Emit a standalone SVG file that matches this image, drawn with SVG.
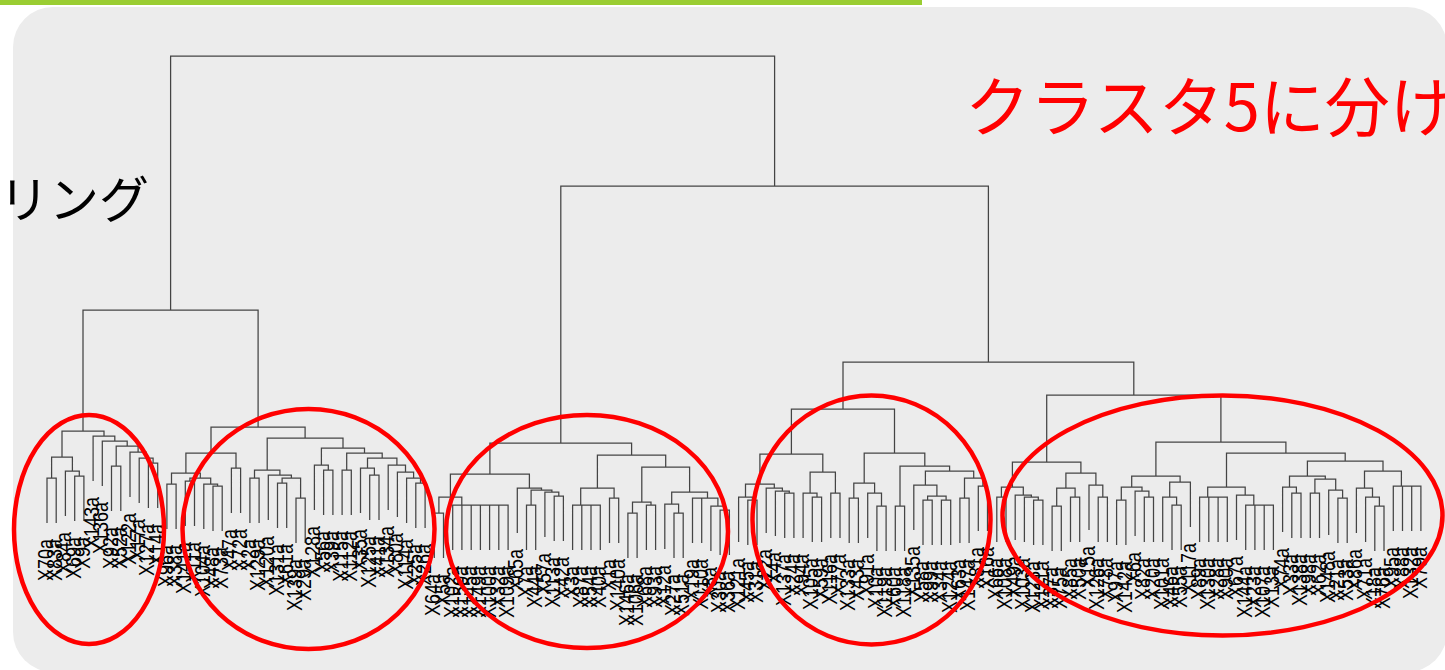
<svg xmlns="http://www.w3.org/2000/svg" width="1445" height="670" viewBox="0 0 1445 670">
<style>
.d{fill:none;stroke:#444;stroke-width:1.25}
.l{font-family:"Liberation Sans",Arial,sans-serif;font-size:18px;fill:#000;text-anchor:end}
.e{fill:none;stroke:#ff0000;stroke-width:4.5}
.jp{font-family:"Noto Sans CJK JP","Noto Sans",sans-serif}
</style>
<rect x="0" y="0" width="922" height="5" fill="#9ACD32"/>
<rect x="13" y="7" width="1434" height="665" rx="40" fill="#ECECEC"/>
<text class="jp" x="-1" y="218" font-size="50" fill="#000">リング</text>
<text class="jp" x="965" y="131" font-size="65" fill="#FF0000">クラスタ5に分け</text>
<g id="connectors">
<path class="d" d="M170.6 310V56H774.6V186M83 431V310H258.1V427M560.8 443V186H988.4V362M843 409V362H1133.8V395M1046.7 462V395H1220.9V442M791.4 454V409H894.5V453M489.9 474V443H631.6V455M211 453V427H305.1V438M62 457V431H104V436"/>
</g>
<g id="cluster1">
<path class="d" d="M74.7 521V476H83.9V521M65.4 516V471H79.3V476M47 523V478H56.2V523M51.6 478V457H72.4V471M148.4 508V463H157.7V508M139.2 503V458H153.1V463M130 497V452H146.2V458M111.5 511V466H120.8V511M116.2 466V446H138.1V452M102.3 486V441H127.2V446M93.1 481V436H114.8V441"/>
</g>
<g id="cluster2">
<path class="d" d="M166.9 529V484H176.1V529M185.3 526V481H194.5V526M213 531V486H222.2V531M203.8 529V484H217.6V486M189.9 481V478H210.7V484M171.5 484V473H200.3V478M231.4 513V468H240.6V513M185.9 473V453H236V468M249.9 523V478H259.1V523M277.5 528V483H286.7V528M296 543V498H305.2V543M282.1 483V478H300.6V498M268.3 520V475H291.4V478M254.5 478V470H279.9V475M323.6 515V470H332.9V515M314.4 510V465H328.3V470M342.1 515V470H351.3V515M369.7 520V475H379V520M360.5 513V468H374.4V475M415.8 528V483H425.1V528M406.6 523V478H420.5V483M397.4 517V472H413.6V478M388.2 510V465H405.5V472M367.5 468V458H396.9V465M346.7 470V453H382.2V458M321.4 465V448H364.5V453M267.2 470V438H343V448"/>
</g>
<g id="cluster3">
<path class="d" d="M434.3 558V513H443.5V558M452.7 550V505H508.1V550M461.9 505V550M471.2 505V550M480.4 505V550M489.6 505V550M498.8 505V550M438.9 513V497H461.8V505M526.5 550V505H535.7V550M554.2 541V496H563.4V541M544.9 537V492H558.8V496M531.1 505V490H551.9V492M517.3 533V488H541.5V490M450.4 497V474H529.4V488M572.6 550V505H600.3V550M581.8 505V550M591 505V550M609.5 543V498H618.7V543M580.7 505V488H614.1V498M627.9 558V513H637.1V558M646.4 550V505H655.6V550M632.5 513V502H651V505M674 558V513H683.2V558M664.8 549V504H678.6V513M692.5 543V498H701.7V543M720.1 555V510H729.4V555M710.9 551V506H724.8V510M697.1 498H717.9V506M671.7 504V492H707.5V498M641.8 502V467H689.6V492M597.4 488V455H665.7V467"/>
</g>
<g id="cluster4">
<path class="d" d="M747.8 545V500H757V545M738.6 542V497H752.4V500M784.7 538V493H793.9V538M775.4 536V491H789.3V493M766.2 533V488H782.4V491M745.5 497V484H774.3V488M812.3 542V497H821.6V542M803.1 538V493H817V497M830.8 538V493H840V538M810.1 493V472H835.4V493M759.9 484V454H822.8V472M849.2 543V498H858.4V543M876.9 551V506H886.1V551M867.7 538V493H881.5V506M853.8 498V483H874.6V493M895.3 551V506H904.6V551M923 545V500H932.2V545M941.4 545V500H950.7V545M927.6 500V496H946.1V500M913.8 530V485H936.9V496M959.9 543V498H969.1V543M978.3 531V486H987.5V531M964.5 498V478H982.9V486M925.4 485V471H973.7V478M900 506V466H949.6V471M864.2 483V453H924.8V466"/>
</g>
<g id="cluster5">
<path class="d" d="M996.8 542V497H1006V542M1033.6 545V500H1042.9V545M1024.4 542V497H1038.3V500M1015.2 540V495H1031.4V497M1001.4 497V487H1023.3V495M1052.1 551V506H1061.3V551M1070.5 542V497H1079.7V542M1056.7 506V488H1075.1V497M1098.2 542V497H1107.4V542M1089 530V485H1102.8V497M1065.9 488V473H1095.9V485M1012.4 487V462H1080.9V473M1116.6 545V500H1125.9V545M1144.3 542V497H1153.5V542M1135.1 536V491H1148.9V497M1121.3 500V487H1142V491M1172 550V505H1181.2V550M1162.7 542V497H1176.6V505M1169.7 497V482H1190.4V527M1131.7 487V476H1180.1V482M1199.6 542V497H1227.3V542M1208.8 497V542M1218.1 497V542M1245.7 550V505H1273.4V550M1254.9 505V550M1264.2 505V550M1236.5 540V495H1253.8V505M1207.7 497V487H1245.2V495M1291.8 538V493H1301V538M1282.6 532V487H1296.4V493M1310.3 538V493H1319.5V538M1337.9 543V498H1347.2V543M1328.7 535V490H1342.6V498M1314.9 493V479H1335.7V490M1289.5 487V476H1325.3V479M1374.8 551V506H1384V551M1365.6 542V497H1379.4V506M1356.4 533V488H1372.5V497M1393.3 531V486H1420.9V531M1402.5 486V531M1411.7 486V531M1364.5 488V471H1401.4V486M1307.4 476V461H1383V471M1226.5 487V453H1345.2V461M1155.9 476V442H1285.9V453"/>
</g>
<g id="labels">
<text class="l" transform="translate(53 539) rotate(-90) scale(1 1.2)">X70a</text>
<text class="l" transform="translate(62.2 539) rotate(-90) scale(1 1.2)">X83a</text>
<text class="l" transform="translate(71.4 532) rotate(-90) scale(1 1.2)">X84a</text>
<text class="l" transform="translate(80.7 537) rotate(-90) scale(1 1.2)">X69a</text>
<text class="l" transform="translate(89.9 537) rotate(-90) scale(1 1.2)">X9a</text>
<text class="l" transform="translate(99.1 497) rotate(-90) scale(1 1.2)">X143a</text>
<text class="l" transform="translate(108.3 502) rotate(-90) scale(1 1.2)">X136a</text>
<text class="l" transform="translate(117.5 527) rotate(-90) scale(1 1.2)">X92a</text>
<text class="l" transform="translate(126.8 527) rotate(-90) scale(1 1.2)">X52a</text>
<text class="l" transform="translate(136 513) rotate(-90) scale(1 1.2)">X122a</text>
<text class="l" transform="translate(145.2 519) rotate(-90) scale(1 1.2)">X17a</text>
<text class="l" transform="translate(154.4 524) rotate(-90) scale(1 1.2)">X127a</text>
<text class="l" transform="translate(163.7 524) rotate(-90) scale(1 1.2)">X14a</text>
<text class="l" transform="translate(172.9 545) rotate(-90) scale(1 1.2)">X96a</text>
<text class="l" transform="translate(182.1 545) rotate(-90) scale(1 1.2)">X38a</text>
<text class="l" transform="translate(191.3 542) rotate(-90) scale(1 1.2)">X141a</text>
<text class="l" transform="translate(200.5 542) rotate(-90) scale(1 1.2)">X11a</text>
<text class="l" transform="translate(209.8 545) rotate(-90) scale(1 1.2)">X104a</text>
<text class="l" transform="translate(219 547) rotate(-90) scale(1 1.2)">X48a</text>
<text class="l" transform="translate(228.2 547) rotate(-90) scale(1 1.2)">X73a</text>
<text class="l" transform="translate(237.4 529) rotate(-90) scale(1 1.2)">X47a</text>
<text class="l" transform="translate(246.6 529) rotate(-90) scale(1 1.2)">X72a</text>
<text class="l" transform="translate(255.9 539) rotate(-90) scale(1 1.2)">X2a</text>
<text class="l" transform="translate(265.1 539) rotate(-90) scale(1 1.2)">X129a</text>
<text class="l" transform="translate(274.3 536) rotate(-90) scale(1 1.2)">X120a</text>
<text class="l" transform="translate(283.5 544) rotate(-90) scale(1 1.2)">X131a</text>
<text class="l" transform="translate(292.7 544) rotate(-90) scale(1 1.2)">X61a</text>
<text class="l" transform="translate(302 559) rotate(-90) scale(1 1.2)">X139a</text>
<text class="l" transform="translate(311.2 559) rotate(-90) scale(1 1.2)">X29a</text>
<text class="l" transform="translate(320.4 526) rotate(-90) scale(1 1.2)">X128a</text>
<text class="l" transform="translate(329.6 531) rotate(-90) scale(1 1.2)">X56a</text>
<text class="l" transform="translate(338.9 531) rotate(-90) scale(1 1.2)">X39a</text>
<text class="l" transform="translate(348.1 531) rotate(-90) scale(1 1.2)">X115a</text>
<text class="l" transform="translate(357.3 531) rotate(-90) scale(1 1.2)">X112a</text>
<text class="l" transform="translate(366.5 529) rotate(-90) scale(1 1.2)">X35a</text>
<text class="l" transform="translate(375.7 536) rotate(-90) scale(1 1.2)">X125a</text>
<text class="l" transform="translate(385 536) rotate(-90) scale(1 1.2)">X41a</text>
<text class="l" transform="translate(394.2 526) rotate(-90) scale(1 1.2)">X134a</text>
<text class="l" transform="translate(403.4 533) rotate(-90) scale(1 1.2)">X80a</text>
<text class="l" transform="translate(412.6 539) rotate(-90) scale(1 1.2)">X114a</text>
<text class="l" transform="translate(421.8 544) rotate(-90) scale(1 1.2)">X25a</text>
<text class="l" transform="translate(431.1 544) rotate(-90) scale(1 1.2)">X26a</text>
<text class="l" transform="translate(440.3 574) rotate(-90) scale(1 1.2)">X64a</text>
<text class="l" transform="translate(449.5 574) rotate(-90) scale(1 1.2)">X5a</text>
<text class="l" transform="translate(458.7 566) rotate(-90) scale(1 1.2)">X102a</text>
<text class="l" transform="translate(467.9 566) rotate(-90) scale(1 1.2)">X150a</text>
<text class="l" transform="translate(477.2 566) rotate(-90) scale(1 1.2)">X145a</text>
<text class="l" transform="translate(486.4 566) rotate(-90) scale(1 1.2)">X149a</text>
<text class="l" transform="translate(495.6 566) rotate(-90) scale(1 1.2)">X100a</text>
<text class="l" transform="translate(504.8 566) rotate(-90) scale(1 1.2)">X32a</text>
<text class="l" transform="translate(514.1 566) rotate(-90) scale(1 1.2)">X109a</text>
<text class="l" transform="translate(523.3 549) rotate(-90) scale(1 1.2)">X65a</text>
<text class="l" transform="translate(532.5 566) rotate(-90) scale(1 1.2)">X7a</text>
<text class="l" transform="translate(541.7 566) rotate(-90) scale(1 1.2)">X44a</text>
<text class="l" transform="translate(550.9 553) rotate(-90) scale(1 1.2)">X57a</text>
<text class="l" transform="translate(560.2 557) rotate(-90) scale(1 1.2)">X113a</text>
<text class="l" transform="translate(569.4 557) rotate(-90) scale(1 1.2)">X42a</text>
<text class="l" transform="translate(578.6 566) rotate(-90) scale(1 1.2)">X3a</text>
<text class="l" transform="translate(587.8 566) rotate(-90) scale(1 1.2)">X87a</text>
<text class="l" transform="translate(597 566) rotate(-90) scale(1 1.2)">X54a</text>
<text class="l" transform="translate(606.3 566) rotate(-90) scale(1 1.2)">X40a</text>
<text class="l" transform="translate(615.5 559) rotate(-90) scale(1 1.2)">X1a</text>
<text class="l" transform="translate(624.7 559) rotate(-90) scale(1 1.2)">X140a</text>
<text class="l" transform="translate(633.9 574) rotate(-90) scale(1 1.2)">X146a</text>
<text class="l" transform="translate(643.1 574) rotate(-90) scale(1 1.2)">X106a</text>
<text class="l" transform="translate(652.4 566) rotate(-90) scale(1 1.2)">X68a</text>
<text class="l" transform="translate(661.6 566) rotate(-90) scale(1 1.2)">X93a</text>
<text class="l" transform="translate(670.8 565) rotate(-90) scale(1 1.2)">X12a</text>
<text class="l" transform="translate(680 574) rotate(-90) scale(1 1.2)">X27a</text>
<text class="l" transform="translate(689.2 574) rotate(-90) scale(1 1.2)">X51a</text>
<text class="l" transform="translate(698.5 559) rotate(-90) scale(1 1.2)">X19a</text>
<text class="l" transform="translate(707.7 559) rotate(-90) scale(1 1.2)">X110a</text>
<text class="l" transform="translate(716.9 567) rotate(-90) scale(1 1.2)">X8a</text>
<text class="l" transform="translate(726.1 571) rotate(-90) scale(1 1.2)">X30a</text>
<text class="l" transform="translate(735.4 571) rotate(-90) scale(1 1.2)">X36a</text>
<text class="l" transform="translate(744.6 558) rotate(-90) scale(1 1.2)">X121a</text>
<text class="l" transform="translate(753.8 561) rotate(-90) scale(1 1.2)">X45a</text>
<text class="l" transform="translate(763 561) rotate(-90) scale(1 1.2)">X31a</text>
<text class="l" transform="translate(772.2 549) rotate(-90) scale(1 1.2)">X22a</text>
<text class="l" transform="translate(781.4 552) rotate(-90) scale(1 1.2)">X4a</text>
<text class="l" transform="translate(790.7 554) rotate(-90) scale(1 1.2)">X137a</text>
<text class="l" transform="translate(799.9 554) rotate(-90) scale(1 1.2)">X24a</text>
<text class="l" transform="translate(809.1 554) rotate(-90) scale(1 1.2)">X94a</text>
<text class="l" transform="translate(818.3 558) rotate(-90) scale(1 1.2)">X105a</text>
<text class="l" transform="translate(827.6 558) rotate(-90) scale(1 1.2)">X59a</text>
<text class="l" transform="translate(836.8 554) rotate(-90) scale(1 1.2)">X116a</text>
<text class="l" transform="translate(846 554) rotate(-90) scale(1 1.2)">X77a</text>
<text class="l" transform="translate(855.2 559) rotate(-90) scale(1 1.2)">X133a</text>
<text class="l" transform="translate(864.4 559) rotate(-90) scale(1 1.2)">X43a</text>
<text class="l" transform="translate(873.7 554) rotate(-90) scale(1 1.2)">X91a</text>
<text class="l" transform="translate(882.9 567) rotate(-90) scale(1 1.2)">X10a</text>
<text class="l" transform="translate(892.1 567) rotate(-90) scale(1 1.2)">X119a</text>
<text class="l" transform="translate(901.3 567) rotate(-90) scale(1 1.2)">X60a</text>
<text class="l" transform="translate(910.6 567) rotate(-90) scale(1 1.2)">X118a</text>
<text class="l" transform="translate(919.8 546) rotate(-90) scale(1 1.2)">X135a</text>
<text class="l" transform="translate(929 561) rotate(-90) scale(1 1.2)">X58a</text>
<text class="l" transform="translate(938.2 561) rotate(-90) scale(1 1.2)">X99a</text>
<text class="l" transform="translate(947.4 561) rotate(-90) scale(1 1.2)">X34a</text>
<text class="l" transform="translate(956.7 561) rotate(-90) scale(1 1.2)">X124a</text>
<text class="l" transform="translate(965.9 559) rotate(-90) scale(1 1.2)">X63a</text>
<text class="l" transform="translate(975.1 559) rotate(-90) scale(1 1.2)">X147a</text>
<text class="l" transform="translate(984.3 547) rotate(-90) scale(1 1.2)">X81a</text>
<text class="l" transform="translate(993.5 547) rotate(-90) scale(1 1.2)">X16a</text>
<text class="l" transform="translate(1002.8 558) rotate(-90) scale(1 1.2)">X66a</text>
<text class="l" transform="translate(1012 558) rotate(-90) scale(1 1.2)">X108a</text>
<text class="l" transform="translate(1021.2 556) rotate(-90) scale(1 1.2)">X49a</text>
<text class="l" transform="translate(1030.4 558) rotate(-90) scale(1 1.2)">X103a</text>
<text class="l" transform="translate(1039.6 561) rotate(-90) scale(1 1.2)">X123a</text>
<text class="l" transform="translate(1048.9 561) rotate(-90) scale(1 1.2)">X111a</text>
<text class="l" transform="translate(1058.1 567) rotate(-90) scale(1 1.2)">X37a</text>
<text class="l" transform="translate(1067.3 567) rotate(-90) scale(1 1.2)">X75a</text>
<text class="l" transform="translate(1076.5 558) rotate(-90) scale(1 1.2)">X85a</text>
<text class="l" transform="translate(1085.7 558) rotate(-90) scale(1 1.2)">X50a</text>
<text class="l" transform="translate(1095 546) rotate(-90) scale(1 1.2)">X15a</text>
<text class="l" transform="translate(1104.2 558) rotate(-90) scale(1 1.2)">X126a</text>
<text class="l" transform="translate(1113.4 558) rotate(-90) scale(1 1.2)">X78a</text>
<text class="l" transform="translate(1122.6 561) rotate(-90) scale(1 1.2)">X97a</text>
<text class="l" transform="translate(1131.9 561) rotate(-90) scale(1 1.2)">X142a</text>
<text class="l" transform="translate(1141.1 552) rotate(-90) scale(1 1.2)">X6a</text>
<text class="l" transform="translate(1150.3 558) rotate(-90) scale(1 1.2)">X82a</text>
<text class="l" transform="translate(1159.5 558) rotate(-90) scale(1 1.2)">X20a</text>
<text class="l" transform="translate(1168.7 558) rotate(-90) scale(1 1.2)">X101a</text>
<text class="l" transform="translate(1178 566) rotate(-90) scale(1 1.2)">X46a</text>
<text class="l" transform="translate(1187.2 566) rotate(-90) scale(1 1.2)">X55a</text>
<text class="l" transform="translate(1196.4 543) rotate(-90) scale(1 1.2)">X117a</text>
<text class="l" transform="translate(1205.6 558) rotate(-90) scale(1 1.2)">X89a</text>
<text class="l" transform="translate(1214.8 558) rotate(-90) scale(1 1.2)">X130a</text>
<text class="l" transform="translate(1224.1 558) rotate(-90) scale(1 1.2)">X28a</text>
<text class="l" transform="translate(1233.3 558) rotate(-90) scale(1 1.2)">X90a</text>
<text class="l" transform="translate(1242.5 556) rotate(-90) scale(1 1.2)">X67a</text>
<text class="l" transform="translate(1251.7 566) rotate(-90) scale(1 1.2)">X144a</text>
<text class="l" transform="translate(1260.9 566) rotate(-90) scale(1 1.2)">X23a</text>
<text class="l" transform="translate(1270.2 566) rotate(-90) scale(1 1.2)">X107a</text>
<text class="l" transform="translate(1279.4 566) rotate(-90) scale(1 1.2)">X13a</text>
<text class="l" transform="translate(1288.6 548) rotate(-90) scale(1 1.2)">X74a</text>
<text class="l" transform="translate(1297.8 554) rotate(-90) scale(1 1.2)">X33a</text>
<text class="l" transform="translate(1307 554) rotate(-90) scale(1 1.2)">X138a</text>
<text class="l" transform="translate(1316.3 554) rotate(-90) scale(1 1.2)">X98a</text>
<text class="l" transform="translate(1325.5 554) rotate(-90) scale(1 1.2)">X62a</text>
<text class="l" transform="translate(1334.7 551) rotate(-90) scale(1 1.2)">X148a</text>
<text class="l" transform="translate(1343.9 559) rotate(-90) scale(1 1.2)">X21a</text>
<text class="l" transform="translate(1353.2 559) rotate(-90) scale(1 1.2)">X53a</text>
<text class="l" transform="translate(1362.4 549) rotate(-90) scale(1 1.2)">X86a</text>
<text class="l" transform="translate(1371.6 558) rotate(-90) scale(1 1.2)">X71a</text>
<text class="l" transform="translate(1380.8 567) rotate(-90) scale(1 1.2)">X18a</text>
<text class="l" transform="translate(1390 567) rotate(-90) scale(1 1.2)">X76a</text>
<text class="l" transform="translate(1399.3 547) rotate(-90) scale(1 1.2)">X95a</text>
<text class="l" transform="translate(1408.5 547) rotate(-90) scale(1 1.2)">X88a</text>
<text class="l" transform="translate(1417.7 547) rotate(-90) scale(1 1.2)">X132a</text>
<text class="l" transform="translate(1426.9 547) rotate(-90) scale(1 1.2)">X79a</text>
</g>
<g id="ellipses">
<ellipse class="e" cx="89" cy="529.5" rx="75" ry="114.5"/>
<ellipse class="e" cx="308.5" cy="529" rx="126" ry="120"/>
<ellipse class="e" cx="587" cy="531.5" rx="141" ry="116.5"/>
<ellipse class="e" cx="871.5" cy="520" rx="119" ry="124.5"/>
<ellipse class="e" cx="1222.5" cy="515.5" rx="220" ry="120"/>
</g>
</svg>
